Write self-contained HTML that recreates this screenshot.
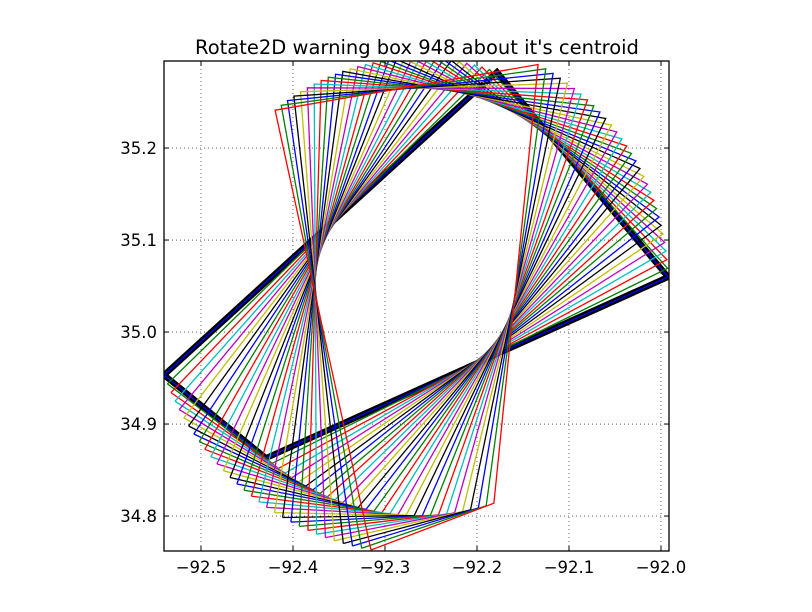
<!DOCTYPE html>
<html><head><meta charset="utf-8"><style>
body{margin:0;background:#fff;}
svg{display:block;font-family:"DejaVu Sans","Liberation Sans",sans-serif;}
</style></head><body>
<svg id="chart" width="812" height="612" viewBox="0 0 812 612">
<rect width="812" height="612" fill="#fff"/>
<text x="417" y="54" text-anchor="middle" font-size="19.5" fill="#000">Rotate2D warning box 948 about it's centroid</text>
<defs><clipPath id="clip"><rect x="164" y="61" width="505" height="490"/></clipPath></defs>
<g id="grid"></g>
<g id="marks" clip-path="url(#clip)"></g>
<rect x="164" y="61" width="505" height="490" fill="none" stroke="#000" stroke-width="1.3"/>
<g id="axes"></g>
</svg>
<script>
const xTicks = [-92.5, -92.4, -92.3, -92.2, -92.1, -92.0];
const yTicks = [34.8, 34.9, 35.0, 35.1, 35.2];
const polyX = [-92.5402, -92.1783, -91.9924, -92.4293];
const polyY = [34.9533, 35.2826, 35.0598, 34.8630];
const centerX = -92.2630;
const centerY = 35.0530;
const angles = [0,2,4,6,8,10,12,14,16,18,20,22,24,26,28,30,32,34,36,38,40,42,44,46,48,50,52,54,56,58,60];
const colors = ['#0000ff','#008000','#ff0000','#00bfbf','#bf00bf','#bfbf00','#000000'];

const X0 = -92.5402, X1 = -91.9913, Y0 = 34.762, Y1 = 35.2946;
const L = 164, R = 669, T = 61, B = 551;
function sx(v){return L + (v - X0) / (X1 - X0) * (R - L);}
function sy(v){return B - (v - Y0) / (Y1 - Y0) * (B - T);}
const NS = 'http://www.w3.org/2000/svg';
const grid = document.getElementById('grid');
const axes = document.getElementById('axes');
const marks = document.getElementById('marks');
function mk(tag, attrs, parent){const e=document.createElementNS(NS,tag);for(const k in attrs)e.setAttribute(k,attrs[k]);parent.appendChild(e);return e;}

xTicks.forEach(function(t){
  const x = sx(t);
  const g = mk('line',{x1:x,x2:x,y1:T,y2:B,stroke:'#000','stroke-width':0.6,'stroke-dasharray':'1,3'},grid);
  
  
  const a = mk('line',{x1:x,x2:x,y1:B,y2:B-5,stroke:'#000','stroke-width':1},axes);
  
  
  const b = mk('line',{x1:x,x2:x,y1:T,y2:T+5,stroke:'#000','stroke-width':1},axes);
  
  
  const tx = mk('text',{x:x,y:B+22,'text-anchor':'middle','font-size':16.5,fill:'#000'},axes);
  tx.textContent = (t<0?'\u2212':'') + Math.abs(t).toFixed(1);
  
  
});
yTicks.forEach(function(t){
  const y = sy(t);
  const g = mk('line',{x1:L,x2:R,y1:y,y2:y,stroke:'#000','stroke-width':0.6,'stroke-dasharray':'1,3'},grid);
  
  
  const a = mk('line',{x1:L,x2:L+5,y1:y,y2:y,stroke:'#000','stroke-width':1},axes);
  
  
  const b = mk('line',{x1:R,x2:R-5,y1:y,y2:y,stroke:'#000','stroke-width':1},axes);
  
  
  const tx = mk('text',{x:L-7,y:y+6,'text-anchor':'end','font-size':16.5,fill:'#000'},axes);
  tx.textContent = t.toFixed(1);
  
  
});

function polyPoints(deg){
  const r = deg*Math.PI/180, c = Math.cos(r), s = Math.sin(r);
  const pts = [];
  for(let i=0;i<=polyX.length;i++){
    const k = i % polyX.length;
    const dx = polyX[k]-centerX, dy = polyY[k]-centerY;
    const x = centerX + dx*c - dy*s, y = centerY + dx*s + dy*c;
    pts.push(sx(x).toFixed(1)+','+sy(y).toFixed(1));
  }
  return pts.join(' ');
}
const orig = mk('polyline',{points:polyPoints(0),fill:'none',stroke:'#000','stroke-width':6,'stroke-linejoin':'miter'},marks);


angles.forEach(function(a,i){
  const p = mk('polyline',{points:polyPoints(a),fill:'none',stroke:colors[i%colors.length],'stroke-width':1.3},marks);
  
  
});
</script>
</body></html>
